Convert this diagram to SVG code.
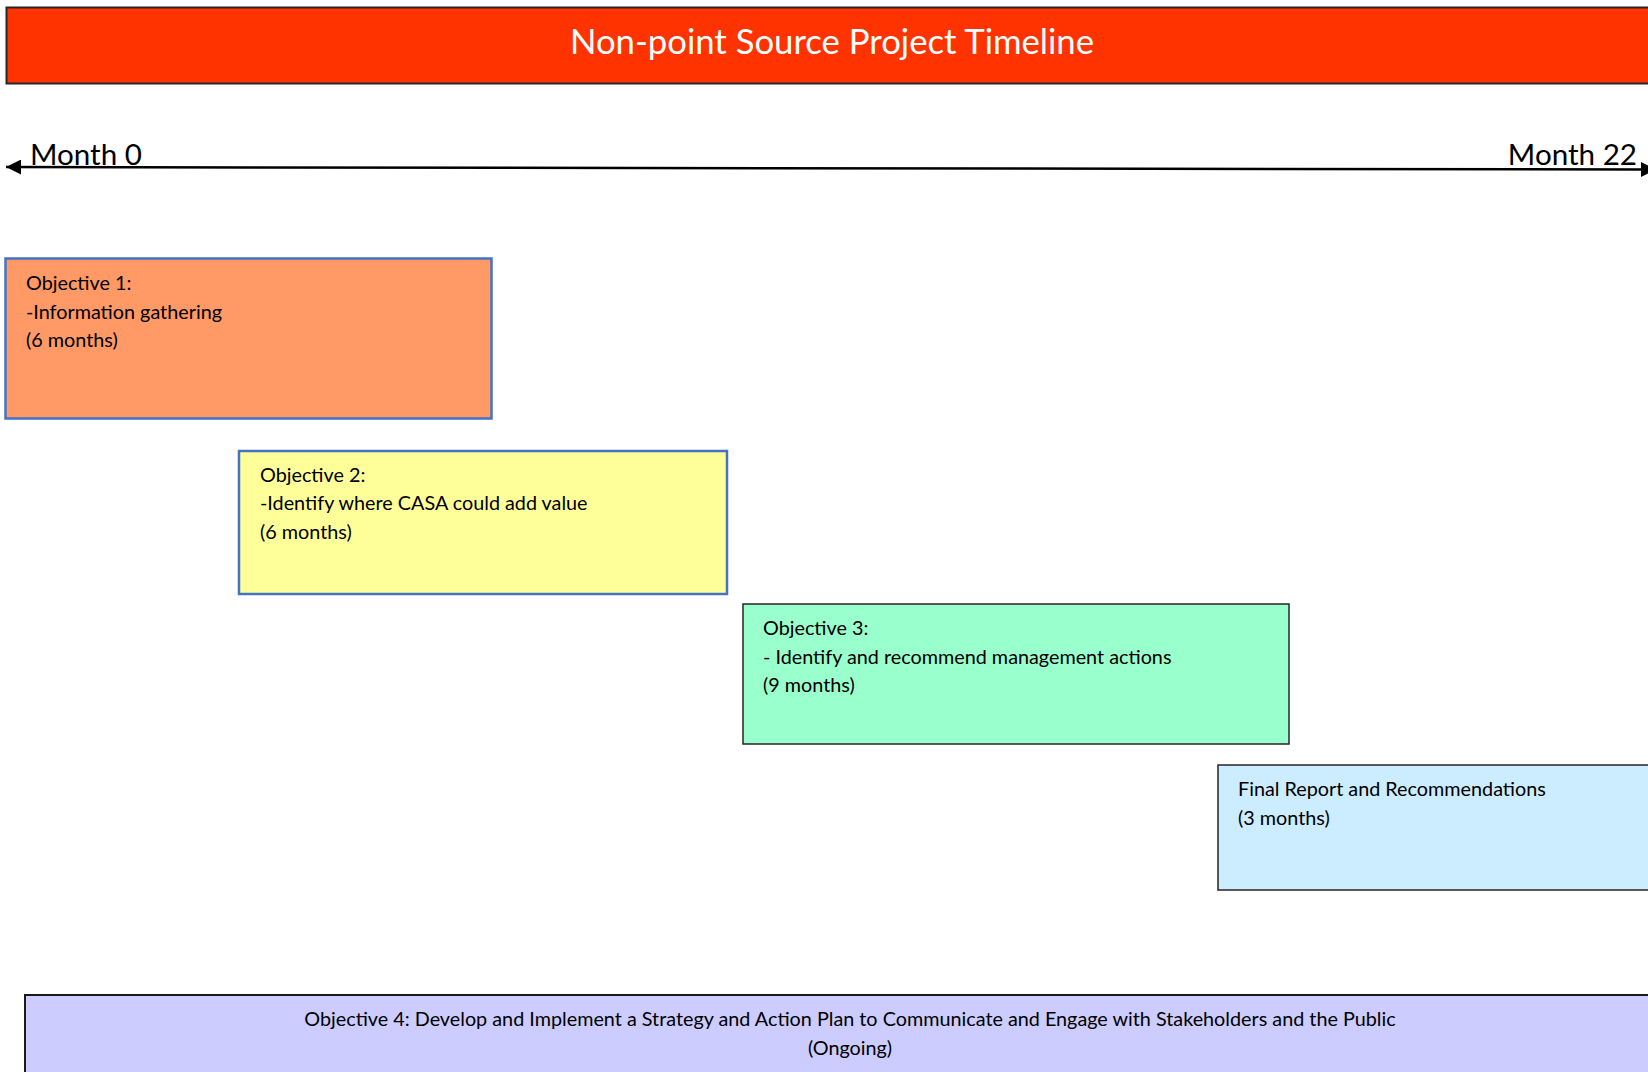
<svg xmlns="http://www.w3.org/2000/svg" width="1648" height="1072" viewBox="0 0 1648 1072">
<style>
  .t { font-family: Lato, "Open Sans", "Liberation Sans", sans-serif; fill: #000; }
  .body { font-size: 19.8px; }
  .month { font-size: 29.6px; }
  .title { font-size: 34.7px; fill: #fff; }
  .blue { stroke: #4472C4; stroke-width: 2.5; }
  .dark { stroke: #262626; stroke-width: 1.5; }
</style>
<defs>
  <marker id="arr" viewBox="0 0 10 10" refX="10" refY="5" markerWidth="6" markerHeight="6" markerUnits="strokeWidth" orient="auto-start-reverse">
    <path d="M0,0 L10,5 L0,10 Z" fill="#000"/>
  </marker>
</defs>
<rect width="1648" height="1072" fill="#fff"/>

<g id="title">
  <rect x="6.5" y="7.5" width="1660" height="76" fill="#FF3300" stroke="#262626" stroke-width="2"/>
  <text class="t title" x="832" y="54" text-anchor="middle">Non-point Source Project Timeline</text>
</g>

<g id="connectors">
  <line x1="6" y1="167" x2="1656" y2="169.5" stroke="#000" stroke-width="2.5" marker-start="url(#arr)" marker-end="url(#arr)"/>
</g>

<g id="month0">
  <text class="t month" x="30" y="165">Month 0</text>
</g>
<g id="month22">
  <text class="t month" x="1637" y="165" text-anchor="end">Month 22</text>
</g>

<g id="objective1">
  <rect x="5.5" y="258.5" width="486" height="160" fill="#FF9966" class="blue"/>
  <text class="t body" x="26" y="290">Objective 1:</text>
  <text class="t body" x="26" y="318.5">-Information gathering</text>
  <text class="t body" x="26" y="347">(6 months)</text>
</g>

<g id="objective2">
  <rect x="239" y="451" width="488" height="143" fill="#FFFF99" class="blue"/>
  <text class="t body" x="260" y="481.5">Objective 2:</text>
  <text class="t body" x="260" y="510">-Identify where CASA could add value</text>
  <text class="t body" x="260" y="538.5">(6 months)</text>
</g>

<g id="objective3">
  <rect x="743" y="604" width="546" height="140" fill="#99FFCC" class="dark"/>
  <text class="t body" x="763" y="635">Objective 3:</text>
  <text class="t body" x="763" y="663.5">- Identify and recommend management actions</text>
  <text class="t body" x="763" y="692">(9 months)</text>
</g>

<g id="final-report">
  <rect x="1218" y="765" width="460" height="125" fill="#CCECFF" class="dark"/>
  <text class="t body" x="1238" y="796">Final Report and Recommendations</text>
  <text class="t body" x="1238" y="824.5">(3 months)</text>
</g>

<g id="objective4">
  <rect x="25" y="995" width="1660" height="120" fill="#CCCCFF" stroke="#1a1a1a" stroke-width="2"/>
  <text class="t body" x="850" y="1026" text-anchor="middle">Objective 4: Develop and Implement a Strategy and Action Plan to Communicate and Engage with Stakeholders and the Public</text>
  <text class="t body" x="850" y="1054.5" text-anchor="middle">(Ongoing)</text>
</g>
</svg>
